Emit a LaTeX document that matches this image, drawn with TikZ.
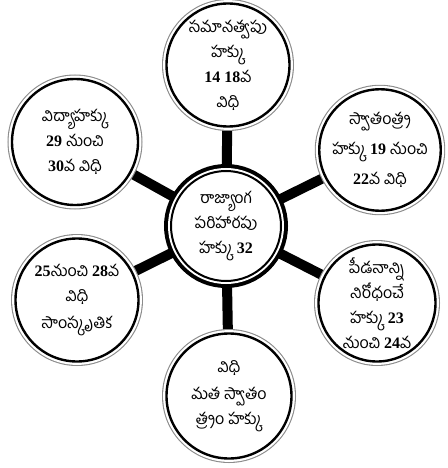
\documentclass[tikz,border=0pt]{standalone}
\usepackage{fontspec}
\setmainfont[Script=Telugu]{Hind Guntur}
\newfontfamily\numfont{Liberation Serif}
\newcommand{\nm}[1]{{\numfont\bfseries #1}}
\usetikzlibrary{backgrounds}

\begin{document}
\begin{tikzpicture}[
 x=1pt,y=-1pt,
 ring/.style={circle,fill=white,draw=black,line width=2.4pt,align=center,
  font=\fontsize{16}{25}\selectfont,inner sep=0pt,
  preaction={draw=black!45,line width=9pt},
  preaction={draw=white,line width=6.8pt}},
 hub/.style={circle,fill=white,draw=black,line width=2pt,align=center,
  font=\fontsize{16}{25}\selectfont,inner sep=0pt,minimum size=110pt,
  preaction={draw=black,line width=14pt},
  preaction={draw=white,line width=6pt}},
 spoke/.style={line width=10pt}
]
\useasboundingbox (0,0) rectangle (447,468);
\node[hub] (hub) at (226,226) {రాజ్యాంగ\\పరిహారపు\\హక్కు \nm{32}};
\node[ring,minimum size=123pt] (equal) at (228,65) {సమానత్వపు\\హక్కు\\\nm{14 18}వ\\విధి};
\node[ring,minimum size=126pt] (edu) at (75,142) {విద్యాహక్కు\\\nm{29} నుంచి\\\nm{30}వ విధి};
\node[ring,minimum size=121pt] (free) at (380,150) {స్వాతంత్ర్య\\[5pt]హక్కు \nm{19} నుంచి\\[5pt]\nm{22}వ విధి};
\node[ring,minimum size=123pt] (cult) at (77,300) {\nm{25}నుంచి \nm{28}వ\\విధి\\[2pt]సాంస్కృతిక};
\node[ring,minimum size=117pt] (exploit) at (377,303) {పీడనాన్ని\\నిరోధంచే\\హక్కు \nm{23}\\నుంచి \nm{24}వ};
\node[ring,minimum size=125pt] (relig) at (229,396) {విధి\\[2pt]మత స్వాతం\\త్ర్యం హక్కు};
\begin{scope}[on background layer]
\draw[spoke] (hub) -- (equal);
\draw[spoke] (hub) -- (edu);
\draw[spoke] (hub) -- (free);
\draw[spoke] (hub) -- (cult);
\draw[spoke] (hub) -- (exploit);
\draw[spoke] (hub) -- (relig);
\end{scope}
\end{tikzpicture}
\end{document}
